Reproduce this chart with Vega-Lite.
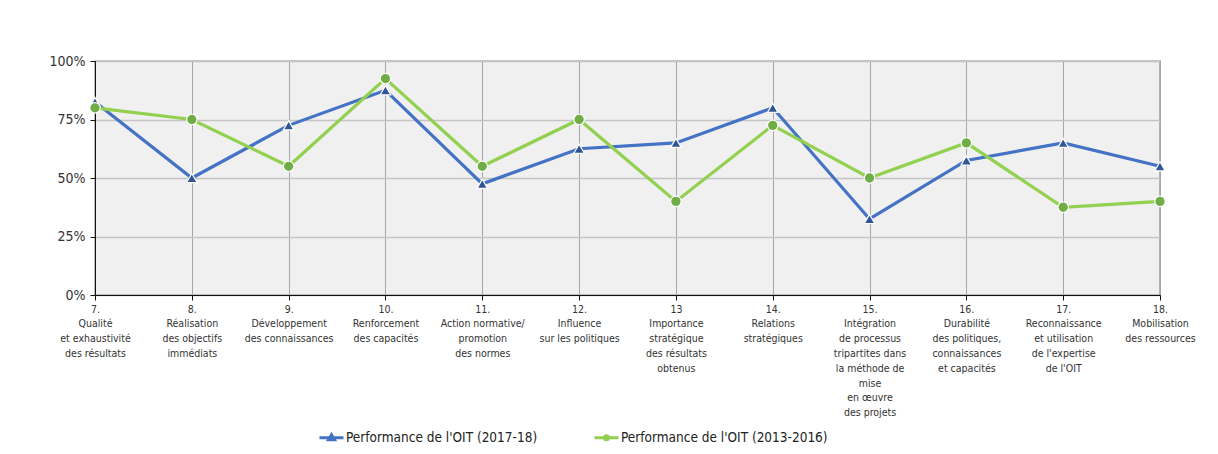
{
  "$schema": "https://vega.github.io/schema/vega-lite/v6.json",
  "autosize": "none",
  "width": 1065,
  "height": 234,
  "padding": {"left": 95, "top": 61, "right": 58, "bottom": 159},
  "background": "white",
  "config": {
    "font": "DejaVu Sans Condensed, Liberation Sans, sans-serif",
    "view": {"fill": "#F0F0F0", "stroke": "#222222", "strokeWidth": 1.2},
    "axis": {"labelFont": "DejaVu Sans Condensed, Liberation Sans, sans-serif", "labelColor": "#333333", "domainColor": "#111111", "tickColor": "#111111"},
    "legend": {"labelFont": "DejaVu Sans Condensed, Liberation Sans, sans-serif"}
  },
  "data": {
    "values": [
      {"cat": "7.|Qualité|et exhaustivité|des résultats", "ord": 7, "series": "Performance de l'OIT (2017-18)", "v": 0.825},
      {"cat": "8.|Réalisation|des objectifs|immédiats", "ord": 8, "series": "Performance de l'OIT (2017-18)", "v": 0.50},
      {"cat": "9.|Développement|des connaissances", "ord": 9, "series": "Performance de l'OIT (2017-18)", "v": 0.725},
      {"cat": "10.|Renforcement|des capacités", "ord": 10, "series": "Performance de l'OIT (2017-18)", "v": 0.875},
      {"cat": "11.|Action normative/|promotion|des normes", "ord": 11, "series": "Performance de l'OIT (2017-18)", "v": 0.475},
      {"cat": "12.|Influence|sur les politiques", "ord": 12, "series": "Performance de l'OIT (2017-18)", "v": 0.625},
      {"cat": "13|Importance|stratégique|des résultats|obtenus", "ord": 13, "series": "Performance de l'OIT (2017-18)", "v": 0.65},
      {"cat": "14.|Relations|stratégiques", "ord": 14, "series": "Performance de l'OIT (2017-18)", "v": 0.80},
      {"cat": "15.|Intégration|de processus|tripartites dans|la méthode de|mise|en œuvre|des projets", "ord": 15, "series": "Performance de l'OIT (2017-18)", "v": 0.325},
      {"cat": "16.|Durabilité|des politiques,|connaissances|et capacités", "ord": 16, "series": "Performance de l'OIT (2017-18)", "v": 0.575},
      {"cat": "17.|Reconnaissance|et utilisation|de l'expertise|de l'OIT", "ord": 17, "series": "Performance de l'OIT (2017-18)", "v": 0.65},
      {"cat": "18.|Mobilisation|des ressources", "ord": 18, "series": "Performance de l'OIT (2017-18)", "v": 0.55},
      {"cat": "7.|Qualité|et exhaustivité|des résultats", "ord": 7, "series": "Performance de l'OIT (2013-2016)", "v": 0.80},
      {"cat": "8.|Réalisation|des objectifs|immédiats", "ord": 8, "series": "Performance de l'OIT (2013-2016)", "v": 0.75},
      {"cat": "9.|Développement|des connaissances", "ord": 9, "series": "Performance de l'OIT (2013-2016)", "v": 0.55},
      {"cat": "10.|Renforcement|des capacités", "ord": 10, "series": "Performance de l'OIT (2013-2016)", "v": 0.925},
      {"cat": "11.|Action normative/|promotion|des normes", "ord": 11, "series": "Performance de l'OIT (2013-2016)", "v": 0.55},
      {"cat": "12.|Influence|sur les politiques", "ord": 12, "series": "Performance de l'OIT (2013-2016)", "v": 0.75},
      {"cat": "13|Importance|stratégique|des résultats|obtenus", "ord": 13, "series": "Performance de l'OIT (2013-2016)", "v": 0.40},
      {"cat": "14.|Relations|stratégiques", "ord": 14, "series": "Performance de l'OIT (2013-2016)", "v": 0.725},
      {"cat": "15.|Intégration|de processus|tripartites dans|la méthode de|mise|en œuvre|des projets", "ord": 15, "series": "Performance de l'OIT (2013-2016)", "v": 0.50},
      {"cat": "16.|Durabilité|des politiques,|connaissances|et capacités", "ord": 16, "series": "Performance de l'OIT (2013-2016)", "v": 0.65},
      {"cat": "17.|Reconnaissance|et utilisation|de l'expertise|de l'OIT", "ord": 17, "series": "Performance de l'OIT (2013-2016)", "v": 0.375},
      {"cat": "18.|Mobilisation|des ressources", "ord": 18, "series": "Performance de l'OIT (2013-2016)", "v": 0.40}
    ]
  },
  "encoding": {
    "x": {
      "field": "cat",
      "type": "ordinal",
      "sort": {"field": "ord"},
      "scale": {"type": "point", "padding": 0},
      "axis": {
        "title": null,
        "labelAngle": 0,
        "labelExpr": "split(datum.value, '|')",
        "labelFontSize": 10.5,
        "labelLineHeight": 14.8,
        "labelPadding": 4,
        "labelBaseline": "top",
        "tickSize": 5,
        "grid": true,
        "gridColor": "#A6A6A6",
        "gridWidth": 1,
        "labelLimit": 200
      }
    },
    "y": {
      "field": "v",
      "type": "quantitative",
      "scale": {"domain": [0, 1], "nice": false},
      "axis": {
        "title": null,
        "values": [0, 0.25, 0.5, 0.75, 1],
        "format": ".0%",
        "labelFontSize": 14,
        "labelPadding": 5,
        "tickSize": 5,
        "grid": true,
        "gridColor": "#C4C4C4",
        "gridWidth": 1.6
      }
    }
  },
  "layer": [
    {
      "mark": {"type": "line", "strokeWidth": 3.2},
      "encoding": {
        "stroke": {
          "field": "series",
          "type": "nominal",
          "scale": {"domain": ["Performance de l'OIT (2017-18)", "Performance de l'OIT (2013-2016)"], "range": ["#4472C4", "#92D050"]},
          "legend": {
            "title": null,
            "orient": "none",
            "legendX": 223,
            "legendY": 363,
            "direction": "horizontal",
            "labelFontSize": 13.5,
            "labelColor": "#222222",
            "symbolSize": 576,
            "symbolStrokeWidth": 3,
            "symbolType": {"expr": "datum.value == \"Performance de l'OIT (2017-18)\" ? 'M-1,0H1 M0,-0.25L0.25,0.18L-0.25,0.18Z' : 'M-1,0H1 M-0.17,0A0.17,0.17 0 1,0 0.17,0A0.17,0.17 0 1,0 -0.17,0Z'"},
            "labelOffset": 1,
            "columnPadding": 50,
            "labelLimit": 300
          }
        }
      }
    },
    {
      "mark": {"type": "point", "filled": true, "opacity": 1, "stroke": "white", "strokeWidth": 1.2, "size": 110},
      "encoding": {
        "fill": {
          "field": "series",
          "type": "nominal",
          "scale": {"domain": ["Performance de l'OIT (2013-2016)", "Performance de l'OIT (2017-18)"], "range": ["#70AD47", "#2F5597"]},
          "legend": null
        },
        "shape": {
          "field": "series",
          "type": "nominal",
          "scale": {"domain": ["Performance de l'OIT (2013-2016)", "Performance de l'OIT (2017-18)"], "range": ["circle", "triangle-up"]},
          "legend": null
        }
      }
    }
  ]
}
